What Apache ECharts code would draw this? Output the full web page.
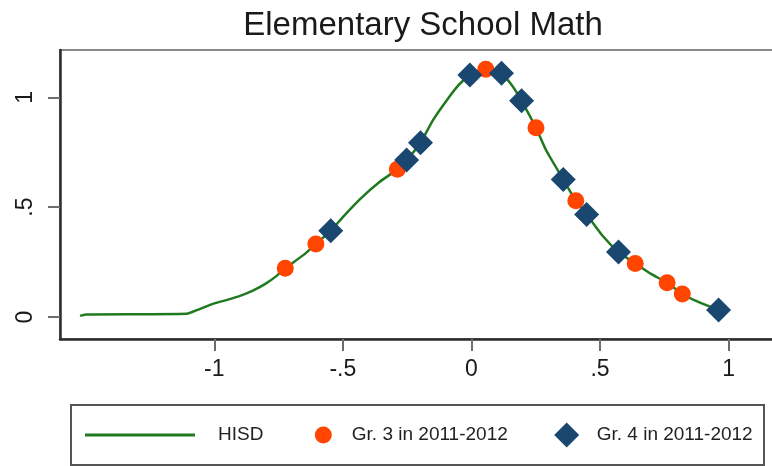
<!DOCTYPE html>
<html>
<head>
<meta charset="utf-8">
<style>
  html, body { margin: 0; padding: 0; background: #ffffff; }
  #chart { width: 772px; height: 466px; }
</style>
<script src="https://cdn.jsdelivr.net/npm/echarts@6/dist/echarts.min.js"></script>
</head>
<body>
<div id="chart"></div>
<script>
// HISD distribution curve (score difference vs. density)
const hisdX = [-1.522, -1.50, -1.107, -1.06, -1.00, -0.95, -0.90, -0.85, -0.80, -0.76, -0.724, -0.65, -0.605, -0.547, -0.50, -0.43, -0.36, -0.288, -0.252, -0.198, -0.15, -0.10, -0.05, -0.006, 0.03, 0.056, 0.09, 0.117, 0.16, 0.195, 0.251, 0.29, 0.357, 0.406, 0.448, 0.51, 0.572, 0.637, 0.70, 0.761, 0.82, 0.88, 0.961];
const hisdY = [0.005, 0.012, 0.015, 0.035, 0.062, 0.078, 0.096, 0.120, 0.152, 0.185, 0.222, 0.285, 0.332, 0.393, 0.455, 0.540, 0.612, 0.672, 0.714, 0.793, 0.895, 0.980, 1.055, 1.101, 1.120, 1.127, 1.120, 1.109, 1.050, 0.984, 0.861, 0.760, 0.626, 0.529, 0.467, 0.370, 0.296, 0.244, 0.195, 0.156, 0.105, 0.070, 0.032];

// Grade 3 schools, 2011-2012
const gr3X = [-0.724, -0.605, -0.288, 0.056, 0.251, 0.406, 0.637, 0.761, 0.820];
const gr3Y = [0.222, 0.332, 0.672, 1.127, 0.861, 0.529, 0.244, 0.156, 0.105];

// Grade 4 schools, 2011-2012
const gr4X = [-0.547, -0.252, -0.198, -0.006, 0.117, 0.195, 0.357, 0.448, 0.572, 0.961];
const gr4Y = [0.393, 0.714, 0.793, 1.101, 1.109, 0.984, 0.626, 0.467, 0.296, 0.032];

// Tick positions and labels
const xTicks = [-1, -0.5, 0, 0.5, 1];
const xTickLabels = ['-1', '-.5', '0', '.5', '1'];
const yTicks = [0, 0.5, 1];
const yTickLabels = ['0', '.5', '1'];

const titleText = 'Elementary School Math';
const seriesNames = ['HISD', 'Gr. 3 in 2011-2012', 'Gr. 4 in 2011-2012'];

const GREEN = '#1f7a1f';
const ORANGE = '#ff4500';
const NAVY = '#1a476f';
const FONT = '"Liberation Sans", Arial, sans-serif';

const zip = (xs, ys) => xs.map((x, i) => [x, ys[i]]);
const labelFor = (ticks, labels) => v => {
  const i = ticks.findIndex(t => Math.abs(t - v) < 1e-9);
  return i >= 0 ? labels[i] : '';
};

const chart = echarts.init(document.getElementById('chart'), null, { renderer: 'canvas' });

const legendText = pad => ({
  fontFamily: FONT, fontSize: 19, color: '#222', lineHeight: 25, padding: [0, 0, 0, pad]
});
const legendBase = { top: 422.5, padding: 0, selectedMode: false };

chart.setOption({
  backgroundColor: '#ffffff',
  animation: false,
  title: {
    text: titleText,
    left: 418,
    top: 4,
    textAlign: 'center',
    textStyle: { fontFamily: FONT, fontSize: 33, fontWeight: 'normal', color: '#1a1a1a' }
  },
  grid: {
    left: 60, top: 50, width: 720, height: 289,
    outerBoundsMode: 'none',
    show: true, borderColor: '#8a8a8a', borderWidth: 2, backgroundColor: '#ffffff'
  },
  xAxis: {
    type: 'value', min: -1.6, max: 1.2,
    splitLine: { show: false },
    axisLine: { show: true, onZero: false, lineStyle: { color: '#2b2b2b', width: 2.5 } },
    axisTick: { show: true, customValues: xTicks, length: 12, lineStyle: { color: '#6e6e6e', width: 2 } },
    axisLabel: {
      customValues: xTicks, formatter: labelFor(xTicks, xTickLabels),
      margin: 19, fontFamily: FONT, fontSize: 23, color: '#1a1a1a'
    }
  },
  yAxis: {
    type: 'value', min: -0.1, max: 1.215,
    splitLine: { show: false },
    axisLine: { show: true, onZero: false, lineStyle: { color: '#2b2b2b', width: 2.5 } },
    axisTick: { show: true, customValues: yTicks, length: 12, lineStyle: { color: '#6e6e6e', width: 2 } },
    axisLabel: {
      customValues: yTicks, formatter: labelFor(yTicks, yTickLabels), rotate: 90,
      margin: 23, fontFamily: FONT, fontSize: 23, color: '#1a1a1a'
    }
  },
  legend: [
    Object.assign({
      data: [{ name: seriesNames[0], icon: 'rect' }],
      left: 85, itemWidth: 110, itemHeight: 3,
      textStyle: legendText(18)
    }, legendBase),
    Object.assign({
      data: [{ name: seriesNames[1], icon: 'circle' }],
      left: 314.8, itemWidth: 17, itemHeight: 17,
      textStyle: legendText(15)
    }, legendBase),
    Object.assign({
      data: [{ name: seriesNames[2], icon: 'diamond' }],
      left: 554.2, itemWidth: 25, itemHeight: 25,
      textStyle: legendText(12.5)
    }, legendBase)
  ],
  graphic: [
    {
      type: 'rect', left: 70, top: 404, z: -1,
      shape: { width: 693, height: 60 },
      style: { fill: '#ffffff', stroke: '#555555', lineWidth: 2 }
    }
  ],
  series: [
    {
      name: seriesNames[0], type: 'line', data: zip(hisdX, hisdY),
      showSymbol: false, symbol: 'none', smooth: 0.2, z: 2,
      itemStyle: { color: GREEN },
      lineStyle: { color: GREEN, width: 2.5 }
    },
    {
      name: seriesNames[1], type: 'scatter', data: zip(gr3X, gr3Y),
      symbol: 'circle', symbolSize: 17, z: 3,
      itemStyle: { color: ORANGE, opacity: 1 }
    },
    {
      name: seriesNames[2], type: 'scatter', data: zip(gr4X, gr4Y),
      symbol: 'diamond', symbolSize: 25, z: 4,
      itemStyle: { color: NAVY, opacity: 1 }
    }
  ]
});
</script>
</body>
</html>
